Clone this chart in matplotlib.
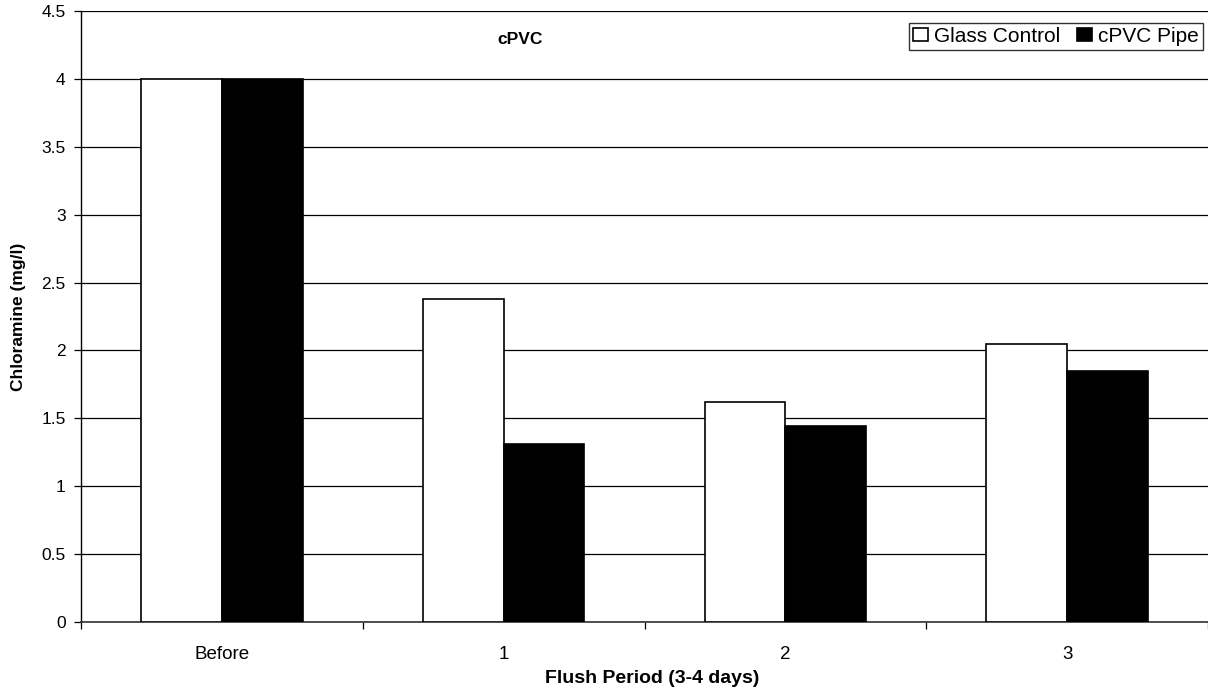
import matplotlib
matplotlib.use("Agg")
import matplotlib.pyplot as plt
from matplotlib.ticker import FixedLocator
import numpy as np

plt.rcParams['font.family'] = ['Liberation Sans', 'DejaVu Sans']

categories = ["Before", "1", "2", "3"]
glass_control = [4.0, 2.38, 1.62, 2.05]
cpvc_pipe = [4.0, 1.31, 1.44, 1.85]
series_names = ["Glass Control", "cPVC Pipe"]
y_ticks = [0, 0.5, 1, 1.5, 2, 2.5, 3, 3.5, 4, 4.5]

fig = plt.figure(figsize=(12.08, 6.96), dpi=100)
ax = fig.add_axes([81 / 1208, 1 - 622 / 696, 1127 / 1208, 611 / 696])

x = np.arange(len(categories))
w = 0.287
ax.bar(x - w / 2, glass_control, width=w, color="white", edgecolor="black",
       linewidth=1.2, label=series_names[0], zorder=3)
ax.bar(x + w / 2, cpvc_pipe, width=w, color="black", edgecolor="black",
       linewidth=1.2, label=series_names[1], zorder=3)

ax.set_xlim(-0.5, len(categories) - 0.5)
ax.set_ylim(0, 4.5)
ax.set_yticks(y_ticks)
ax.set_yticklabels([f"{v:g}" for v in y_ticks])
ax.yaxis.grid(True, color="black", linewidth=0.9)
ax.set_axisbelow(True)

ax.set_xticks(x)
ax.set_xticklabels(categories)
ax.xaxis.set_minor_locator(FixedLocator(np.arange(-0.5, len(categories), 1.0)))
ax.tick_params(axis="x", which="major", length=0, pad=17, labelsize=13.5)
ax.tick_params(axis="x", which="minor", length=5, width=0.9, direction="out")
ax.tick_params(axis="y", length=5, width=0.9, direction="out", pad=6, labelsize=12.5)

for side in ("top", "right"):
    ax.spines[side].set_visible(False)
ax.spines["left"].set_linewidth(1.0)
ax.spines["bottom"].set_linewidth(1.2)
ax.spines["bottom"].set_color("#333333")

ax.set_xlabel("Flush Period (3-4 days)", fontsize=14, fontweight="bold")
ax.set_ylabel("Chloramine (mg/l)", fontsize=12.5, fontweight="bold")
ax.xaxis.set_label_coords(0.507, -0.078)
ax.yaxis.set_label_coords(-0.049, 0.5)

ax.text(1.06, 4.29, "cPVC", ha="center", va="center", fontsize=12.5, fontweight="bold")

leg = ax.legend(loc="upper right", bbox_to_anchor=(0.9956, 0.981), ncol=2,
                fontsize=15, frameon=True, fancybox=False, edgecolor="black",
                handlelength=0.72, handleheight=0.55, handletextpad=0.3,
                columnspacing=0.8, borderpad=0.2, borderaxespad=0)
leg.get_frame().set_linewidth(1.0)

fig.savefig("out.png", dpi=100)
